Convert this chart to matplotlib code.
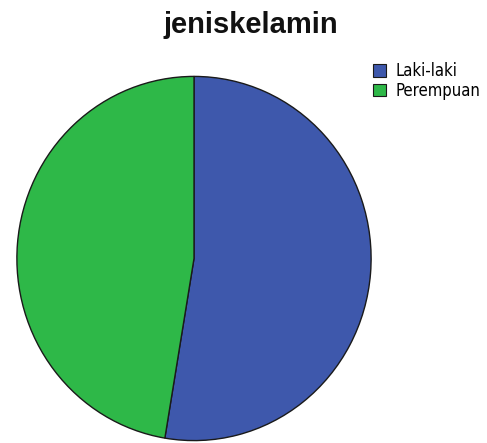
import matplotlib
matplotlib.use("Agg")
import matplotlib.pyplot as plt

# jenis kelamin counts (~52.6% / 47.4%)
labels = ["Laki-laki", "Perempuan"]
counts = [20, 18]
colors = ["#3E58AC", "#2EB848"]

W, H = 487, 443
fig = plt.figure(figsize=(W / 100, H / 100), dpi=100)

# pie axes: centre ~(194, 258) px from top-left; the source image is a bit
# stretched, so the circle is ~178 px wide-radius and ~183 px tall-radius
cx, cy, rx, ry = 194, 258.5, 178, 183
ax = fig.add_axes([(cx - rx) / W, (H - cy - ry) / H, 2 * rx / W, 2 * ry / H])
ax.pie(counts, colors=colors, startangle=90, counterclock=False,
       wedgeprops=dict(edgecolor="#1a1a1a", linewidth=1.0))
ax.set_xlim(-1.005, 1.005)
ax.set_ylim(-1.005, 1.005)
ax.set_aspect("auto")
ax.axis("off")

fig.text(251 / W, 1 - 25 / H, "jeniskelamin", ha="center", va="center",
         fontsize=21, fontweight="bold", family=["Liberation Sans", "DejaVu Sans"],
         color="#111111")

fig.legend(ax.patches, labels, loc="upper left",
           bbox_to_anchor=(373 / W, 1 - 62 / H), frameon=False,
           handlelength=0.75, handleheight=0.8, handletextpad=0.6,
           labelspacing=0.1, borderpad=0, borderaxespad=0,
           prop=dict(family=["DejaVu Sans"], stretch="condensed", size=12))
for p in fig.legends[0].get_patches():
    p.set_edgecolor("#1a1a1a")
    p.set_linewidth(0.8)

fig.savefig("out.png", dpi=100)
